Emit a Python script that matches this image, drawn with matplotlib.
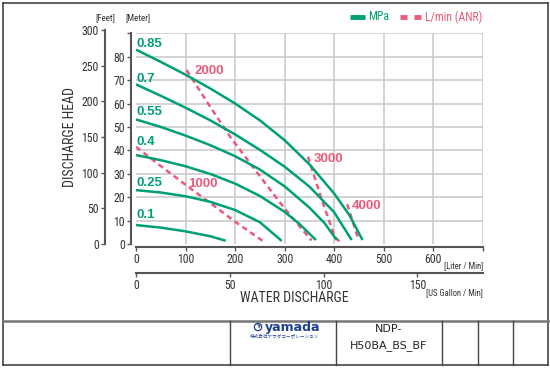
import matplotlib
matplotlib.use("Agg")
import matplotlib.pyplot as plt
from matplotlib.lines import Line2D
from matplotlib import font_manager

# ---------------- data ----------------
mpa_labels = ["0.85", "0.7", "0.55", "0.4", "0.25", "0.1"]
mpa_x = [
    [0, 50, 100, 150, 200, 250, 300, 350, 400, 430, 457],
    [0, 50, 100, 150, 200, 250, 300, 350, 400, 435],
    [0, 50, 100, 150, 200, 250, 300, 350, 380, 405],
    [0, 50, 100, 150, 200, 250, 300, 330, 363],
    [0, 50, 100, 150, 200, 250, 294],
    [0, 50, 100, 150, 181],
]
mpa_y = [
    [83, 77.8, 72.3, 66.4, 60, 52.8, 44.3, 34, 21.5, 12.5, 1.7],
    [68.2, 63.3, 58.2, 52.8, 46.8, 40.2, 33, 24.5, 13.5, 1.7],
    [53.2, 50, 46.3, 42.2, 37.5, 31.8, 24.6, 15.5, 9, 1.7],
    [38, 35.8, 33.2, 29.9, 25.8, 20.5, 13.7, 8.5, 1.7],
    [23, 22, 20.4, 18, 14.5, 9.3, 1.3],
    [8.1, 7.0, 5.4, 3.3, 1.4],
]
mpa_label_y = [85.4, 70.4, 56.3, 43.4, 25.9, 12.4]

air_labels = ["1000", "2000", "3000", "4000"]
air_x = [
    [0, 50, 100, 150, 200, 258],
    [102, 150, 190, 243, 297, 354],
    [347, 373, 401, 411],
    [426, 449],
]
air_y = [
    [41.5, 33.3, 25.3, 17.5, 9.5, 1.0],
    [74.3, 58.5, 45.8, 30.9, 15.9, 1.5],
    [37.3, 20, 3, 1],
    [17, 1.7],
]
air_label_pos = [(105, 25.5), (119, 74), (358, 36.3), (435, 16.3)]

x_ticks_lpm = [0, 100, 200, 300, 400, 500, 600, 700]
x_ticklabels_lpm = ["0", "100", "200", "300", "400", "500", "600", ""]
gal_ticks = [0, 50, 100, 150]
m_ticks = [0, 10, 20, 30, 40, 50, 60, 70, 80, 90]
m_ticklabels = ["0", "10", "20", "30", "40", "50", "60", "70", "80", ""]
ft_ticks = [0, 50, 100, 150, 200, 250, 300]

# ---------------- fonts ----------------
entries = font_manager.fontManager.ttflist
cond_name, cond_stretch = None, "normal"
for pref in ["Roboto Condensed", "Liberation Sans Narrow", "Open Sans Condensed",
             "Noto Sans Condensed", "DejaVu Sans Condensed"]:
    if any(f.name == pref for f in entries):
        cond_name = pref
        break
if cond_name is None:
    for fam in ["Roboto", "Noto Sans", "Open Sans", "DejaVu Sans"]:
        hits = [f for f in entries if f.name == fam and "condensed" in str(f.stretch).lower()
                and f.weight in ("normal", 400, "regular", "book")]
        if hits:
            cond_name, cond_stretch = fam, hits[0].stretch
            break
if cond_name is None:
    cond_name = "Liberation Sans"
plt.rcParams["font.family"] = [cond_name, "DejaVu Sans"]
plt.rcParams["font.stretch"] = cond_stretch

GREEN = "#00a077"
PINK = "#eb5a7a"
AXC = "#555555"
TXT = "#333333"
GRID = "#c8c8c8"

W, H = 550, 368
fig = plt.figure(figsize=(W / 100, H / 100), dpi=100)

def fx(px):
    return px / W

def fy(py):
    return 1 - py / H

# main axes: x 0..700 L/min at px 136..483, y 0..90 m at py 244..33.3
ax = fig.add_axes([fx(136), fy(244), (483 - 136) / W, (244 - 33.3) / H])
ax.set_xlim(0, 700)
ax.set_ylim(0, 90)
ax.set_facecolor("none")
for x in range(100, 701, 100):
    ax.axvline(x, color=GRID, lw=1.1, zorder=0)
for y in range(10, 91, 10):
    ax.axhline(y, color=GRID, lw=1.1, zorder=0)

for xs, ys in zip(mpa_x, mpa_y):
    ax.plot(xs, ys, color=GREEN, lw=1.8, solid_capstyle="butt",
            solid_joinstyle="round", zorder=3)
for xs, ys in zip(air_x, air_y):
    ax.plot(xs, ys, color=PINK, lw=1.8, dashes=(2.2, 1.6), zorder=2)

LBL = dict(fontsize=9.5, fontweight="bold", ha="left", va="center",
           family=["Liberation Sans", "DejaVu Sans"], fontstretch="normal", zorder=4)
for lab, ly in zip(mpa_labels, mpa_label_y):
    ax.text(1, ly, lab, color=GREEN, **LBL)
for lab, (lx, ly) in zip(air_labels, air_label_pos):
    ax.text(lx, ly, lab, color=PINK, **LBL)

for s in ["top", "right"]:
    ax.spines[s].set_visible(False)
ax.spines["left"].set_position(("outward", 3.6))
ax.spines["bottom"].set_position(("outward", 2.2))
ax.spines["left"].set_bounds(0, 90)
ax.spines["bottom"].set_bounds(0, 700)
for s in ["left", "bottom"]:
    ax.spines[s].set_color(AXC)
    ax.spines[s].set_linewidth(1.5)
ax.set_xticks(x_ticks_lpm)
ax.set_xticklabels(x_ticklabels_lpm)
ax.set_yticks(m_ticks)
ax.set_yticklabels(m_ticklabels)
ax.tick_params(axis="both", colors=AXC, labelcolor=TXT, labelsize=8.5,
               length=3, width=1, pad=1.5, direction="out")

# feet axis
axf = fig.add_axes([fx(105), fy(244), 0.0005, (244 - 30) / H])
axf.set_ylim(0, 300)
axf.set_facecolor("none")
for s in ["top", "right", "bottom"]:
    axf.spines[s].set_visible(False)
axf.spines["left"].set_color(AXC)
axf.spines["left"].set_linewidth(1.5)
axf.set_xticks([])
axf.set_yticks(ft_ticks)
axf.tick_params(axis="y", colors=AXC, labelcolor=TXT, labelsize=8.5,
                length=3, width=1, pad=1.5)

# gallon axis
axg = fig.add_axes([fx(136), fy(272.7), (483 - 136) / W, 0.0005])
axg.set_xlim(0, 700 / 3.78541)
axg.set_facecolor("none")
for s in ["top", "right", "left"]:
    axg.spines[s].set_visible(False)
axg.spines["bottom"].set_color(AXC)
axg.spines["bottom"].set_linewidth(1.5)
axg.set_yticks([])
axg.set_xticks(gal_ticks)
axg.tick_params(axis="x", colors=AXC, labelcolor=TXT, labelsize=8.5,
                length=3, width=1, pad=1.5)

# axis texts
fig.text(fx(105), fy(18), "[Feet]", fontsize=6.5, color=TXT, ha="center", va="center")
fig.text(fx(138), fy(18), "[Meter]", fontsize=6.5, color=TXT, ha="center", va="center")
fig.text(fx(70), fy(137), "DISCHARGE HEAD", fontsize=10, color=TXT, rotation=90,
         ha="center", va="center")
fig.text(fx(294), fy(298), "WATER DISCHARGE", fontsize=10, color=TXT,
         ha="center", va="center")
fig.text(fx(483), fy(266), "[Liter / Min]", fontsize=6.2, color=TXT, ha="right", va="center")
fig.text(fx(483), fy(293), "[US Gallon / Min]", fontsize=6.2, color=TXT, ha="right", va="center")

# legend
fig.add_artist(Line2D([fx(350), fx(365)], [fy(17), fy(17)], color=GREEN, lw=3.5,
                      solid_capstyle="butt"))
fig.text(fx(368.5), fy(17), "MPa", fontsize=8.5, color=GREEN, ha="left", va="center")
for a, b in [(400, 407), (414, 421)]:
    fig.add_artist(Line2D([fx(a), fx(b)], [fy(17), fy(17)], color=PINK, lw=3.5,
                          solid_capstyle="butt"))
fig.text(fx(425), fy(17), "L/min (ANR)", fontsize=8.5, color=PINK, ha="left", va="center")

# frame and title block
def fline(x0, y0, x1, y1, color="#444444", lw=1.2):
    fig.add_artist(Line2D([fx(x0), fx(x1)], [fy(y0), fy(y1)], color=color, lw=lw))

fline(3, 3, 548, 3)
fline(3, 365, 548, 365)
fline(3, 3, 3, 365)
fline(548, 3, 548, 365)
fline(3, 320.7, 548, 320.7, color="#777777", lw=1.8)
for cx in [230, 336, 442, 478, 513]:
    fline(cx, 320.7, cx, 365, lw=1.0)

BLUE = "#1f3f8f"
fig.text(fx(258), fy(327), "Y", fontsize=4.5, color=BLUE, ha="center", va="center",
         fontweight="bold", family=["DejaVu Sans"],
         bbox=dict(boxstyle="circle,pad=0.18", fc="none", ec=BLUE, lw=0.9))
fig.text(fx(293), fy(327), "yamada", fontsize=9, color=BLUE, ha="center", va="center",
         fontweight="bold", family=["DejaVu Sans"], fontstretch="normal")
fig.text(fx(285), fy(336), "株式会社ヤマダコーポレーション", fontsize=3.3, color=BLUE,
         ha="center", va="center", family=["Noto Sans CJK JP", "DejaVu Sans"])
fig.text(fx(389), fy(329), "NDP-", fontsize=8, color="#222222", ha="center", va="center",
         family=["DejaVu Sans"], fontstretch="normal")
fig.text(fx(389), fy(346), "H50BA_BS_BF", fontsize=8, color="#222222", ha="center",
         va="center", family=["DejaVu Sans"], fontstretch="normal")

fig.savefig("out.png", dpi=100)
